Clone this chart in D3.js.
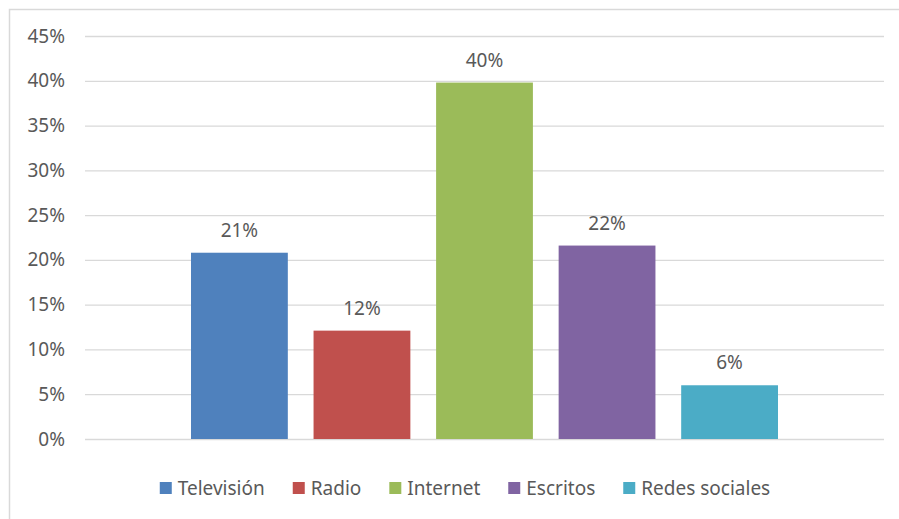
<!DOCTYPE html>
<html>
<head>
<meta charset="utf-8">
<script src="https://cdn.jsdelivr.net/npm/d3@7"></script>
<style>
  html, body { margin: 0; padding: 0; background: #fff; }
  svg { display: block; }
  text { font-family: "Noto Sans", "Open Sans", sans-serif; fill: #595959; }
</style>
</head>
<body>
<svg id="chart" width="899" height="519"></svg>
<script>
const series = ["Televisión", "Radio", "Internet", "Escritos", "Redes sociales"];
const values = [0.208, 0.121, 0.398, 0.216, 0.060];
const colors = ["#4F81BD", "#C0504D", "#9BBB59", "#8064A2", "#4BACC6"];
const yTicks = [0, 0.05, 0.10, 0.15, 0.20, 0.25, 0.30, 0.35, 0.40, 0.45];

const W = 899, H = 519;
const plot = { left: 85, right: 884, top: 36, bottom: 439 };
const svg = d3.select("#chart");

// chart border (right/bottom edges lie outside the view)
svg.append("rect")
  .attr("x", 9.5).attr("y", 9.5)
  .attr("width", W + 10).attr("height", H + 10)
  .attr("fill", "none").attr("stroke", "#D9D9D9").attr("stroke-width", 1.5);

const y = d3.scaleLinear().domain([0, 0.45]).range([plot.bottom, plot.top]);

// single category band centred in the plot, series bands inside it
const x0 = d3.scaleBand().domain(["all"]).range([plot.left, plot.right])
  .paddingOuter(0.1806).paddingInner(0);
const x1 = d3.scaleBand().domain(series).range([0, x0.bandwidth()]).paddingInner(0.21);

// gridlines
const yAxis = d3.axisLeft(y).tickValues(yTicks).tickFormat(d3.format(".0%"))
  .tickSize(-(plot.right - plot.left)).tickPadding(20);
const gy = svg.append("g").attr("transform", `translate(${plot.left},0)`).call(yAxis);
gy.select(".domain").remove();
gy.selectAll(".tick line").attr("stroke", "#D9D9D9").attr("stroke-width", 1.3);
gy.selectAll(".tick text").attr("font-size", 19).attr("fill", "#595959")
  .style("font-family", '"Noto Sans", "Open Sans", sans-serif').attr("x", -20);

// bars
const g = svg.append("g").attr("transform", `translate(${x0("all")},0)`);
g.selectAll("rect.bar").data(series).join("rect")
  .attr("class", "bar")
  .attr("x", d => x1(d))
  .attr("width", x1.bandwidth())
  .attr("y", (d, i) => y(values[i]))
  .attr("height", (d, i) => y(0) - y(values[i]))
  .attr("fill", (d, i) => colors[i]);

// data labels
g.selectAll("text.lbl").data(series).join("text")
  .attr("class", "lbl")
  .attr("x", d => x1(d) + x1.bandwidth() / 2)
  .attr("y", (d, i) => y(values[i]) - 16)
  .attr("text-anchor", "middle")
  .attr("font-size", 19)
  .text((d, i) => d3.format(".0%")(values[i]));

// legend
const leg = svg.append("g");
const legY = 488;
const legGap = 28;
let cx = 0;
const items = leg.selectAll("g.item").data(series).join("g").attr("class", "item");
items.append("rect").attr("width", 12).attr("height", 12).attr("y", legY - 6)
  .attr("fill", (d, i) => colors[i]);
items.append("text").attr("x", 18).attr("y", legY).attr("dy", "0.35em")
  .attr("font-size", 19).text(d => d);
items.each(function () {
  const t = d3.select(this).select("text").node().getComputedTextLength();
  d3.select(this).attr("transform", `translate(${cx},0)`);
  cx += 18 + t + legGap;
});
const legW = cx - legGap;
leg.attr("transform", `translate(${465 - legW / 2},0)`);
</script>
</body>
</html>
